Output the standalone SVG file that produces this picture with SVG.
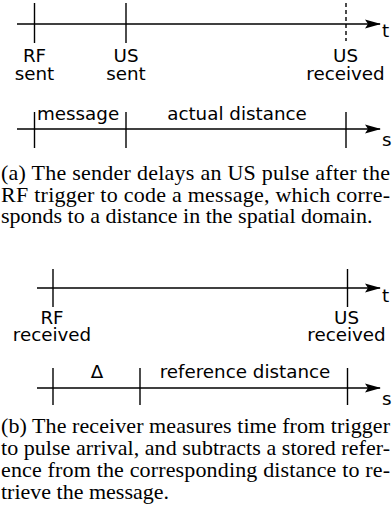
<svg xmlns="http://www.w3.org/2000/svg" width="392" height="522" viewBox="0 0 392 522">
<style>
.ax{stroke:#000;stroke-width:1.5;fill:none}
.tk{stroke:#000;stroke-width:1.4;fill:none}
.lb{font-family:"DejaVu Sans",sans-serif;font-size:18.3px;fill:#000}
.c{text-anchor:middle}
.cap{font-family:"Liberation Serif","Times New Roman",serif;font-size:22px;fill:#000}
</style>
<defs>
<marker id="arr" viewBox="0 0 16 10" refX="15" refY="5" markerWidth="16" markerHeight="10" markerUnits="userSpaceOnUse" orient="auto">
<path d="M0,0.5 L16,5 L0,9.5 L3,5 Z" fill="#000"/>
</marker>
</defs>
<g id="connectors">
<line class="ax" x1="17" y1="24" x2="380" y2="24" marker-end="url(#arr)"/>
<line class="ax" x1="17" y1="129" x2="380" y2="129" marker-end="url(#arr)"/>
<line class="ax" x1="37" y1="288" x2="380" y2="288" marker-end="url(#arr)"/>
<line class="ax" x1="37" y1="388" x2="380" y2="388" marker-end="url(#arr)"/>
</g>
<g id="time-a">
<line class="tk" x1="34.5" y1="3" x2="34.5" y2="43"/>
<line class="tk" x1="126" y1="3" x2="126" y2="43"/>
<line class="tk" x1="346" y1="3" x2="346" y2="41" stroke-dasharray="4,3"/>
<text class="lb" x="382" y="37">t</text>
<text class="lb c" x="34.5" y="62">RF</text>
<text class="lb c" x="34.5" y="79.5">sent</text>
<text class="lb c" x="126" y="62">US</text>
<text class="lb c" x="126" y="79.5">sent</text>
<text class="lb c" x="345.5" y="62">US</text>
<text class="lb c" x="345.5" y="79.5">received</text>
</g>
<g id="space-a">
<line class="tk" x1="34.5" y1="112" x2="34.5" y2="148"/>
<line class="tk" x1="126" y1="112" x2="126" y2="148"/>
<line class="tk" x1="346" y1="112" x2="346" y2="148"/>
<text class="lb" x="37" y="119.5">message</text>
<text class="lb c" x="237" y="119.5">actual distance</text>
<text class="lb" x="382" y="146">s</text>
</g>
<g id="caption-a">
<text class="cap" x="1" y="180" textLength="389" lengthAdjust="spacing">(a)  The sender delays an US pulse after the</text>
<text class="cap" x="1" y="201.5" textLength="389" lengthAdjust="spacing">RF trigger to code a message, which corre-</text>
<text class="cap" x="1" y="223">sponds to a distance in the spatial domain.</text>
</g>
<g id="time-b">
<line class="tk" x1="53" y1="269" x2="53" y2="307"/>
<line class="tk" x1="347.5" y1="269" x2="347.5" y2="307"/>
<text class="lb" x="382" y="302">t</text>
<text class="lb c" x="52" y="323.5">RF</text>
<text class="lb c" x="52" y="341">received</text>
<text class="lb c" x="346.5" y="323.5">US</text>
<text class="lb c" x="346.5" y="341">received</text>
</g>
<g id="space-b">
<line class="tk" x1="53" y1="368" x2="53" y2="405"/>
<line class="tk" x1="140" y1="368" x2="140" y2="405"/>
<line class="tk" x1="347.5" y1="368" x2="347.5" y2="405"/>
<text class="lb c" x="97" y="378">Δ</text>
<text class="lb c" x="245" y="378">reference distance</text>
<text class="lb" x="382" y="405">s</text>
</g>
<g id="caption-b">
<text class="cap" x="1" y="433" textLength="389" lengthAdjust="spacing">(b)  The receiver measures time from trigger</text>
<text class="cap" x="1" y="455" textLength="389" lengthAdjust="spacing">to pulse arrival, and subtracts a stored refer-</text>
<text class="cap" x="1" y="477" textLength="389" lengthAdjust="spacing">ence from the corresponding distance to re-</text>
<text class="cap" x="1" y="499">trieve the message.</text>
</g>
</svg>
